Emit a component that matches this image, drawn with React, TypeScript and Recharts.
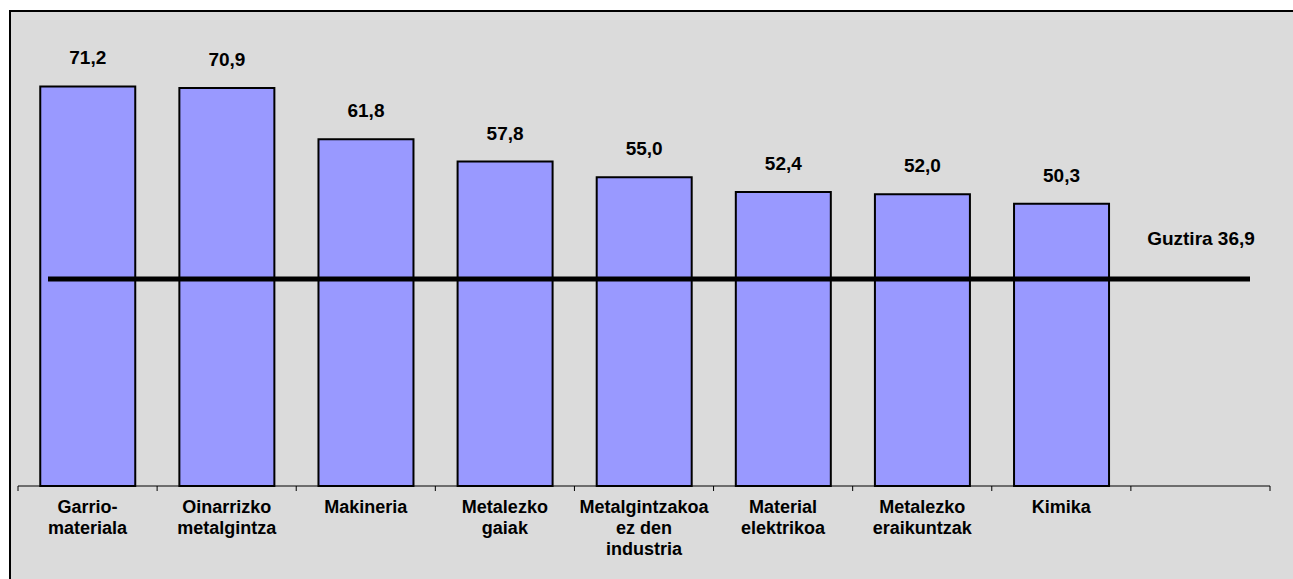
import { ComposedChart, Bar, XAxis, YAxis, LabelList, ReferenceLine } from "recharts";

const categories = [
  "Garrio-\nmateriala",
  "Oinarrizko\nmetalgintza",
  "Makineria",
  "Metalezko\ngaiak",
  "Metalgintzakoa\nez den\nindustria",
  "Material\nelektrikoa",
  "Metalezko\neraikuntzak",
  "Kimika",
  "",
];
const values = [71.2, 70.9, 61.8, 57.8, 55.0, 52.4, 52.0, 50.3, null];
const totalValue = 36.9;
const totalLabel = "Guztira 36,9";

const data = categories.map((name, i) => ({ name, value: values[i] }));

const FONT = "'Liberation Sans', Arial, sans-serif";
const fmt = (v: any) => (v == null ? "" : Number(v).toFixed(1).replace(".", ","));

function CategoryTick(props: any) {
  const { x, y, payload, index } = props;
  const off = payload.offset || 0;
  const lines = String(payload.value).split("\n");
  return (
    <g>
      <line x1={x - off} y1={y} x2={x - off} y2={y + 5} stroke="#000" strokeWidth={1} />
      {index === categories.length - 1 && (
        <line x1={x + off} y1={y} x2={x + off} y2={y + 5} stroke="#000" strokeWidth={1} />
      )}
      <text x={x} y={y + 27} textAnchor="middle" fontFamily={FONT} fontWeight="bold" fontSize={18} fill="#000">
        {lines.map((l, i) => (
          <tspan key={i} x={x} dy={i === 0 ? 0 : 21}>
            {l}
          </tspan>
        ))}
      </text>
    </g>
  );
}

function TotalLine(props: any) {
  const { x1, y1, x2 } = props;
  return (
    <g>
      <line x1={x1 + 30} y1={y1} x2={x2 - 20} y2={y1} stroke="#000" strokeWidth={5} />
      <text x={x2 - 69} y={y1 - 34} textAnchor="middle" fontFamily={FONT} fontWeight="bold" fontSize={19} fill="#000">
        {totalLabel}
      </text>
    </g>
  );
}

export default function App() {
  return (
    <div style={{ position: "absolute", left: 0, top: 0, width: 1293, height: 579, background: "#fff", overflow: "hidden" }}>
      <div
        style={{
          position: "absolute",
          left: 9,
          top: 10,
          right: 0,
          bottom: 0,
          background: "#dbdbdb",
          borderLeft: "2px solid #000",
          borderTop: "2px solid #000",
        }}
      />
      <div style={{ position: "absolute", left: 0, top: 0 }}>
        <ComposedChart
          width={1293}
          height={579}
          data={data}
          margin={{ top: 37, right: 23, left: 18, bottom: 13 }}
          barCategoryGap="16%"
        >
          <XAxis
            dataKey="name"
            height={80}
            interval={0}
            axisLine={{ stroke: "#000", strokeWidth: 1 }}
            tickLine={false}
            tick={(p: any) => <CategoryTick {...p} y={486} />}
          />
          <YAxis hide domain={[0, 80]} />
          <Bar dataKey="value" fill="#9999ff" stroke="#000" strokeWidth={2} isAnimationActive={false}>
            <LabelList
              dataKey="value"
              position="top"
              offset={22}
              formatter={fmt}
              style={{ fontFamily: FONT, fontWeight: "bold", fontSize: 19, fill: "#000" }}
            />
          </Bar>
          <ReferenceLine y={totalValue} shape={<TotalLine />} />
        </ComposedChart>
      </div>
    </div>
  );
}
